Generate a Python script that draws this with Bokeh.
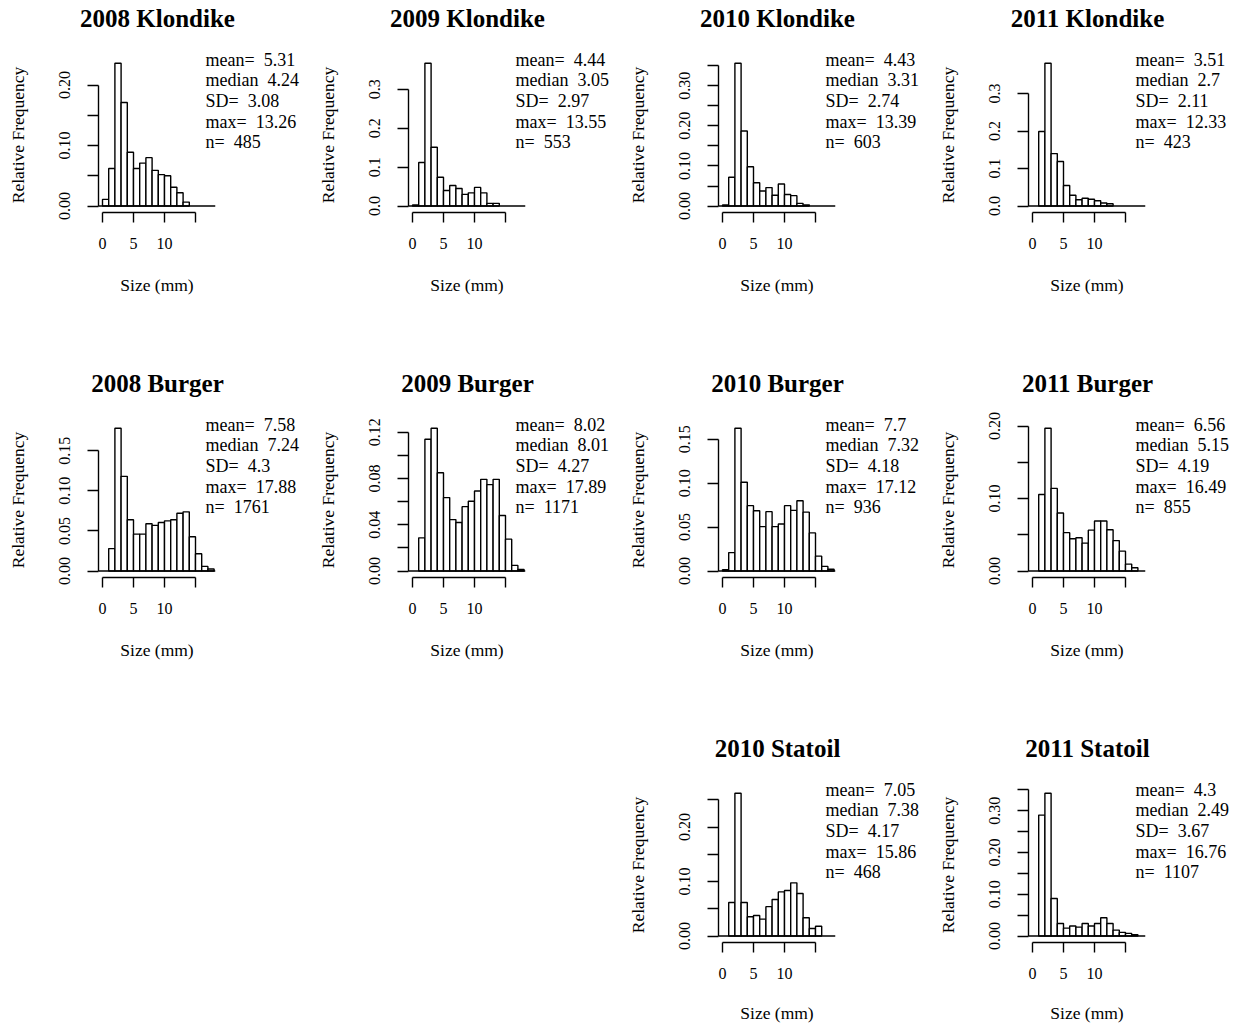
from bokeh.plotting import figure
from bokeh.models import Range1d, FixedTicker, Span, Spacer, LinearAxis
from bokeh.layouts import row, column
from bokeh.embed import file_html
from bokeh.resources import INLINE

# ---------------- data ----------------
titles = ["2008 Klondike", "2009 Klondike", "2010 Klondike", "2011 Klondike",
          "2008 Burger", "2009 Burger", "2010 Burger", "2011 Burger",
          "2010 Statoil", "2011 Statoil"]
bin_width = 1.0
bin_start = [0, 0, 0, 1, 1, 1, 0, 1, 1, 1]

freq_k2008 = [0.011, 0.062, 0.236, 0.171, 0.089, 0.062, 0.071, 0.080, 0.059, 0.052, 0.050, 0.031, 0.022, 0.0066]
freq_k2009 = [0.003, 0.112, 0.367, 0.151, 0.074, 0.040, 0.053, 0.045, 0.030, 0.034, 0.048, 0.034, 0.007, 0.007]
freq_k2010 = [0.0025, 0.072, 0.356, 0.187, 0.098, 0.058, 0.0375, 0.046, 0.027, 0.055, 0.029, 0.026, 0.0067, 0.003]
freq_k2011 = [0.199, 0.381, 0.140, 0.119, 0.055, 0.029, 0.017, 0.021, 0.018, 0.014, 0.008, 0.006]
freq_b2008 = [0.028, 0.178, 0.118, 0.064, 0.046, 0.046, 0.059, 0.057, 0.0605, 0.0626, 0.064, 0.072, 0.0738, 0.0427, 0.0216, 0.0058, 0.0025]
freq_b2009 = [0.0287, 0.114, 0.1235, 0.085, 0.0635, 0.0445, 0.042, 0.0557, 0.0603, 0.0692, 0.0793, 0.0747, 0.0793, 0.048, 0.0276, 0.0049, 0.0014]
freq_b2010 = [0.0015, 0.021, 0.1625, 0.101, 0.0744, 0.0687, 0.0506, 0.0676, 0.0506, 0.0536, 0.0744, 0.069, 0.080, 0.067, 0.0434, 0.017, 0.0053, 0.002]
freq_b2011 = [0.1055, 0.197, 0.114, 0.080, 0.053, 0.0445, 0.046, 0.0385, 0.0564, 0.069, 0.069, 0.057, 0.042, 0.0275, 0.0096, 0.0046]
freq_s2010 = [0.0616, 0.262, 0.0616, 0.0354, 0.0378, 0.031, 0.054, 0.067, 0.081, 0.0835, 0.0976, 0.078, 0.0335, 0.014, 0.018]
freq_s2011 = [0.2896, 0.342, 0.090, 0.030, 0.019, 0.024, 0.0215, 0.030, 0.024, 0.030, 0.0438, 0.030, 0.0143, 0.0088, 0.0064, 0.003]
freqs = [freq_k2008, freq_k2009, freq_k2010, freq_k2011,
         freq_b2008, freq_b2009, freq_b2010, freq_b2011,
         freq_s2010, freq_s2011]

stat_mean = ["5.31", "4.44", "4.43", "3.51", "7.58", "8.02", "7.7", "6.56", "7.05", "4.3"]
stat_median = ["4.24", "3.05", "3.31", "2.7", "7.24", "8.01", "7.32", "5.15", "7.38", "2.49"]
stat_sd = ["3.08", "2.97", "2.74", "2.11", "4.3", "4.27", "4.18", "4.19", "4.17", "3.67"]
stat_max = ["13.26", "13.55", "13.39", "12.33", "17.88", "17.89", "17.12", "16.49", "15.86", "16.76"]
stat_n = ["485", "553", "603", "423", "1761", "1171", "936", "855", "468", "1107"]
stat_keys = ["mean=", "median", "SD=", "max=", "n="]

x_ticks = [0, 5, 10, 15]
x_tick_labels = ["0", "5", "10", ""]

y_ticks = [
    [0.00, 0.05, 0.10, 0.15, 0.20],
    [0.0, 0.1, 0.2, 0.3],
    [0.00, 0.05, 0.10, 0.15, 0.20, 0.25, 0.30, 0.35],
    [0.0, 0.1, 0.2, 0.3],
    [0.00, 0.05, 0.10, 0.15],
    [0.00, 0.02, 0.04, 0.06, 0.08, 0.10, 0.12],
    [0.00, 0.05, 0.10, 0.15],
    [0.00, 0.05, 0.10, 0.15, 0.20],
    [0.00, 0.05, 0.10, 0.15, 0.20, 0.25],
    [0.00, 0.05, 0.10, 0.15, 0.20, 0.25, 0.30, 0.35],
]
y_tick_labels = [
    ["0.00", "", "0.10", "", "0.20"],
    ["0.0", "0.1", "0.2", "0.3"],
    ["0.00", "", "0.10", "", "0.20", "", "0.30", ""],
    ["0.0", "0.1", "0.2", "0.3"],
    ["0.00", "0.05", "0.10", "0.15"],
    ["0.00", "", "0.04", "", "0.08", "", "0.12"],
    ["0.00", "0.05", "0.10", "0.15"],
    ["0.00", "", "0.10", "", "0.20"],
    ["0.00", "", "0.10", "", "0.20", ""],
    ["0.00", "", "0.10", "", "0.20", "", "0.30", ""],
]
grid_pos = [(0, 0), (0, 1), (0, 2), (0, 3), (1, 0), (1, 1), (1, 2), (1, 3), (2, 2), (2, 3)]

# ---------------- layout / style ----------------
FONT = "Liberation Serif"
COLW = [310, 310, 310, 310]
LEFT = 98
ROWH = [365, 365, 296]
TOP = 57
FW, FH = 117, 155
PXMM = 6.2          # pixels per mm on x
XS = -4.0 / PXMM    # frame left in data units
LW = 1.4


def bare_axis(ticks, labels, standoff, size, style="normal"):
    ax = LinearAxis(ticker=FixedTicker(ticks=ticks, minor_ticks=[]),
                    major_label_overrides=dict(zip(ticks, labels)))
    ax.axis_line_color = None
    ax.major_tick_line_color = None
    ax.major_tick_in = 0
    ax.major_tick_out = 0
    ax.major_label_standoff = standoff
    ax.major_label_text_font = FONT
    ax.major_label_text_font_size = size
    ax.major_label_text_font_style = style
    ax.major_label_text_color = "black"
    return ax


def make_panel(i):
    r, c = grid_pos[i]
    W, H = COLW[c], ROWH[r]
    heights = freqs[i]
    M = max(heights)
    ys, ye = -0.045 * M, 1.04 * M
    k = FH / (ye - ys)
    xe = XS + FW / PXMM
    p = figure(width=W, height=H, x_range=Range1d(XS, xe), y_range=Range1d(ys, ye),
               output_backend="svg", toolbar_location=None,
               min_border_left=LEFT, min_border_right=W - LEFT - FW,
               min_border_top=TOP, min_border_bottom=H - TOP - FH)
    p.outline_line_color = None
    p.xgrid.visible = False
    p.ygrid.visible = False
    p.background_fill_color = "white"
    p.border_fill_color = "white"

    lefts = [bin_start[i] + j * bin_width for j in range(len(heights))]
    rights = [v + bin_width for v in lefts]
    p.quad(left=lefts, right=rights, bottom=0, top=heights,
           fill_color="white", line_color="black", line_width=LW)
    p.add_layout(Span(location=0, dimension="width", line_color="black", line_width=LW))

    xa = p.xaxis[0]
    xa.ticker = FixedTicker(ticks=x_ticks, minor_ticks=[])
    xa.major_label_overrides = dict(zip(x_ticks, x_tick_labels))
    xa.bounds = (x_ticks[0], x_ticks[-1])
    xa.major_tick_in = 0
    xa.major_tick_out = 10
    xa.axis_line_width = LW
    xa.major_tick_line_width = LW
    xa.major_label_text_font = FONT
    xa.major_label_text_font_size = "16px"
    xa.major_label_text_color = "black"
    xa.major_label_standoff = 15
    xa.axis_label = "Size (mm)"
    xa.axis_label_text_font = FONT
    xa.axis_label_text_font_size = "17.5px"
    xa.axis_label_text_font_style = "normal"
    xa.axis_label_text_color = "black"
    xa.axis_label_standoff = 23 if r < 2 else 21

    ya = p.yaxis[0]
    yt = y_ticks[i]
    ya.ticker = FixedTicker(ticks=yt, minor_ticks=[])
    ya.major_label_overrides = dict(zip(yt, y_tick_labels[i]))
    ya.bounds = (yt[0], yt[-1])
    ya.major_tick_in = 0
    ya.major_tick_out = 11
    ya.axis_line_width = LW
    ya.major_tick_line_width = LW
    ya.major_label_orientation = "vertical"
    ya.major_label_text_font = FONT
    ya.major_label_text_font_size = "16px"
    ya.major_label_text_color = "black"
    ya.major_label_standoff = 17
    ya.axis_label = "Relative Frequency"
    ya.axis_label_text_font = FONT
    ya.axis_label_text_font_size = "17.5px"
    ya.axis_label_text_font_style = "normal"
    ya.axis_label_text_color = "black"
    ya.axis_label_standoff = 29

    # panel title, centred over the plot region, above the frame
    tx = [XS + 59.0 / PXMM]
    p.add_layout(bare_axis(tx, [titles[i]], 26, "25px", "bold"), "above")

    # summary statistics, one line each, to the upper right of the histogram
    vals = [stat_mean[i], stat_median[i], stat_sd[i], stat_max[i], stat_n[i]]
    texts = [kk + "\u00a0 " + vv for kk, vv in zip(stat_keys, vals)]
    stat_y = [ye - (2.3 + 20.6 * j) / k for j in range(len(texts))]
    p.add_layout(bare_axis(stat_y, texts, -10, "18px"), "right")
    return p


panels = [make_panel(i) for i in range(len(titles))]
row1 = row(*panels[0:4])
row2 = row(*panels[4:8])
row3 = row(Spacer(width=COLW[0] + COLW[1], height=ROWH[2]), panels[8], panels[9])
layout = column(row1, row2, row3)

open("out.html", "w").write(file_html(layout, INLINE))
